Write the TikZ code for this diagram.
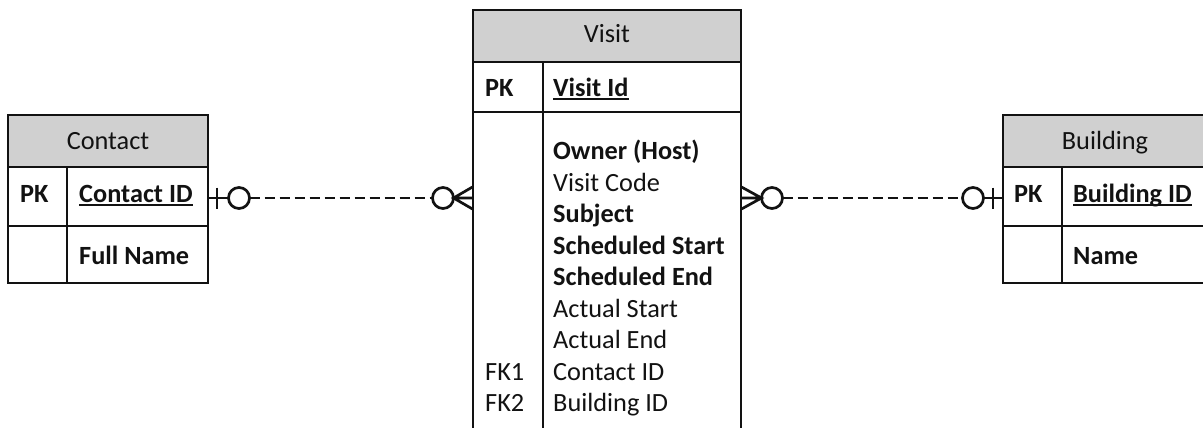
\documentclass[tikz,border=0pt]{standalone}
\usepackage{fontspec}
\setmainfont{Carlito}
\usetikzlibrary{calc}
\definecolor{hdr}{HTML}{D0D0D0}
\definecolor{ink}{HTML}{121212}
\begin{document}
\begin{tikzpicture}[x=1pt,y=-1pt,
  box/.style={draw=ink, line width=2.2pt, inner sep=0pt, outer sep=0pt, anchor=north west},
  head/.style={box, fill=hdr},
  htxt/.style={inner sep=0pt, anchor=base, text=ink, font=\fontsize{26.3}{31.5}\selectfont},
  txt/.style={inner sep=0pt, anchor=base west, text=ink, font=\fontsize{26.3}{31.5}\selectfont},
  btxt/.style={txt, font=\fontsize{26.3}{31.5}\selectfont\bfseries},
  uline/.style={draw=ink, line width=1.8pt},
  rel/.style={draw=ink, line width=2.7pt},
  reldash/.style={rel, dash pattern=on 10pt off 5pt}
]
\useasboundingbox (0,0) rectangle (1203,428);
\clip (0,0) rectangle (1203,428);

% ---------- Contact ----------
\node[head, minimum width=200pt, minimum height=52pt] (contact-h) at (8,115) {};
\node[box, minimum width=59pt, minimum height=59pt] (contact-k1) at (8,167) {};
\node[box, minimum width=141pt, minimum height=59pt] (contact-a1) at (67,167) {};
\node[box, minimum width=59pt, minimum height=57pt] (contact-k2) at (8,226) {};
\node[box, minimum width=141pt, minimum height=57pt] (contact-a2) at (67,226) {};
\node[htxt] (contact-title) at (108,149) {Contact};
\node[btxt] (contact-pk) at (20,202) {PK};
\node[btxt] (contact-id) at (79,202) {Contact ID};
\node[btxt] (contact-name) at (79,264) {Full Name};
\draw[uline] ([yshift=-3pt]contact-id.base west) -- ([yshift=-3pt]contact-id.base east);

% ---------- Visit ----------
\node[head, minimum width=268pt, minimum height=52pt] (visit-h) at (473,10) {};
\node[box, minimum width=70pt, minimum height=50pt] (visit-k1) at (473,62) {};
\node[box, minimum width=198pt, minimum height=50pt] (visit-a1) at (543,62) {};
\node[box, minimum width=70pt, minimum height=340pt] (visit-k2) at (473,112) {};
\node[box, minimum width=198pt, minimum height=340pt] (visit-a2) at (543,112) {};
\node[htxt] (visit-title) at (607,43) {Visit};
\node[btxt] (visit-pk) at (485,96) {PK};
\node[btxt] (visit-id) at (553,96) {Visit Id};
\draw[uline] ([yshift=-3pt]visit-id.base west) -- ([yshift=-3pt]visit-id.base east);
\node[btxt] (visit-owner) at (553,159.5) {Owner (Host)};
\node[txt]  (visit-code)  at (553,191.0) {Visit Code};
\node[btxt] (visit-subj)  at (553,222.5) {Subject};
\node[btxt] (visit-ss)    at (553,254.0) {Scheduled Start};
\node[btxt] (visit-se)    at (553,285.5) {Scheduled End};
\node[txt]  (visit-as)    at (553,317.0) {Actual Start};
\node[txt]  (visit-ae)    at (553,348.5) {Actual End};
\node[txt]  (visit-cid)   at (553,380.0) {Contact ID};
\node[txt]  (visit-bid)   at (553,411.5) {Building ID};
\node[txt]  (visit-fk1)   at (485,380.0) {FK1};
\node[txt]  (visit-fk2)   at (485,411.5) {FK2};

% ---------- Building ----------
\node[head, minimum width=210pt, minimum height=52pt] (bldg-h) at (1003,115) {};
\node[box, minimum width=59pt, minimum height=59pt] (bldg-k1) at (1003,167) {};
\node[box, minimum width=151pt, minimum height=59pt] (bldg-a1) at (1062,167) {};
\node[box, minimum width=59pt, minimum height=57pt] (bldg-k2) at (1003,226) {};
\node[box, minimum width=151pt, minimum height=57pt] (bldg-a2) at (1062,226) {};
\node[htxt] (bldg-title) at (1105,149) {Building};
\node[btxt] (bldg-pk) at (1014,202) {PK};
\node[btxt] (bldg-id) at (1073,202) {Building ID};
\node[btxt] (bldg-name) at (1073,264) {Name};
\draw[uline] ([yshift=-3pt]bldg-id.base west) -- ([yshift=-3pt]bldg-id.base east);

% ---------- Contact (one, optional) to Visit (many, optional) ----------
\path (contact-a1.east) ++(0,1.5) coordinate (cl);
\path (visit-k2.west |- cl) coordinate (vl);
\draw[rel] (cl) -- ($(cl)+(20.5,0)$);
\draw[rel] ($(cl)+(9,-10.5)$) -- ($(cl)+(9,10.5)$);
\draw[rel] ($(cl)+(31,0)$) circle[radius=10.5pt];
\draw[reldash] ($(cl)+(41.5,0)$) -- ($(vl)+(-40.5,0)$);
\draw[rel] ($(vl)+(-30,0)$) circle[radius=10.5pt];
\draw[rel] ($(vl)+(-0.5,-11)$) -- ($(vl)+(-19.5,0)$) -- ($(vl)+(-0.5,11)$)
           ($(vl)+(-19.5,0)$) -- (vl);

% ---------- Visit (many, optional) to Building (one, optional) ----------
\path (bldg-k1.west) ++(0,1.5) coordinate (br);
\path (visit-a2.east |- br) coordinate (vr);
\draw[rel] ($(vr)+(0.5,-11)$) -- ($(vr)+(20.5,0)$) -- ($(vr)+(0.5,11)$)
           ($(vr)+(20.5,0)$) -- (vr);
\draw[rel] ($(vr)+(31,0)$) circle[radius=10.5pt];
\draw[reldash] ($(vr)+(41.5,0)$) -- ($(br)+(-40.5,0)$);
\draw[rel] ($(br)+(-30,0)$) circle[radius=10.5pt];
\draw[rel] ($(br)+(-10,-10.5)$) -- ($(br)+(-10,10.5)$);
\draw[rel] ($(br)+(-19.5,0)$) -- (br);
\end{tikzpicture}
\end{document}
